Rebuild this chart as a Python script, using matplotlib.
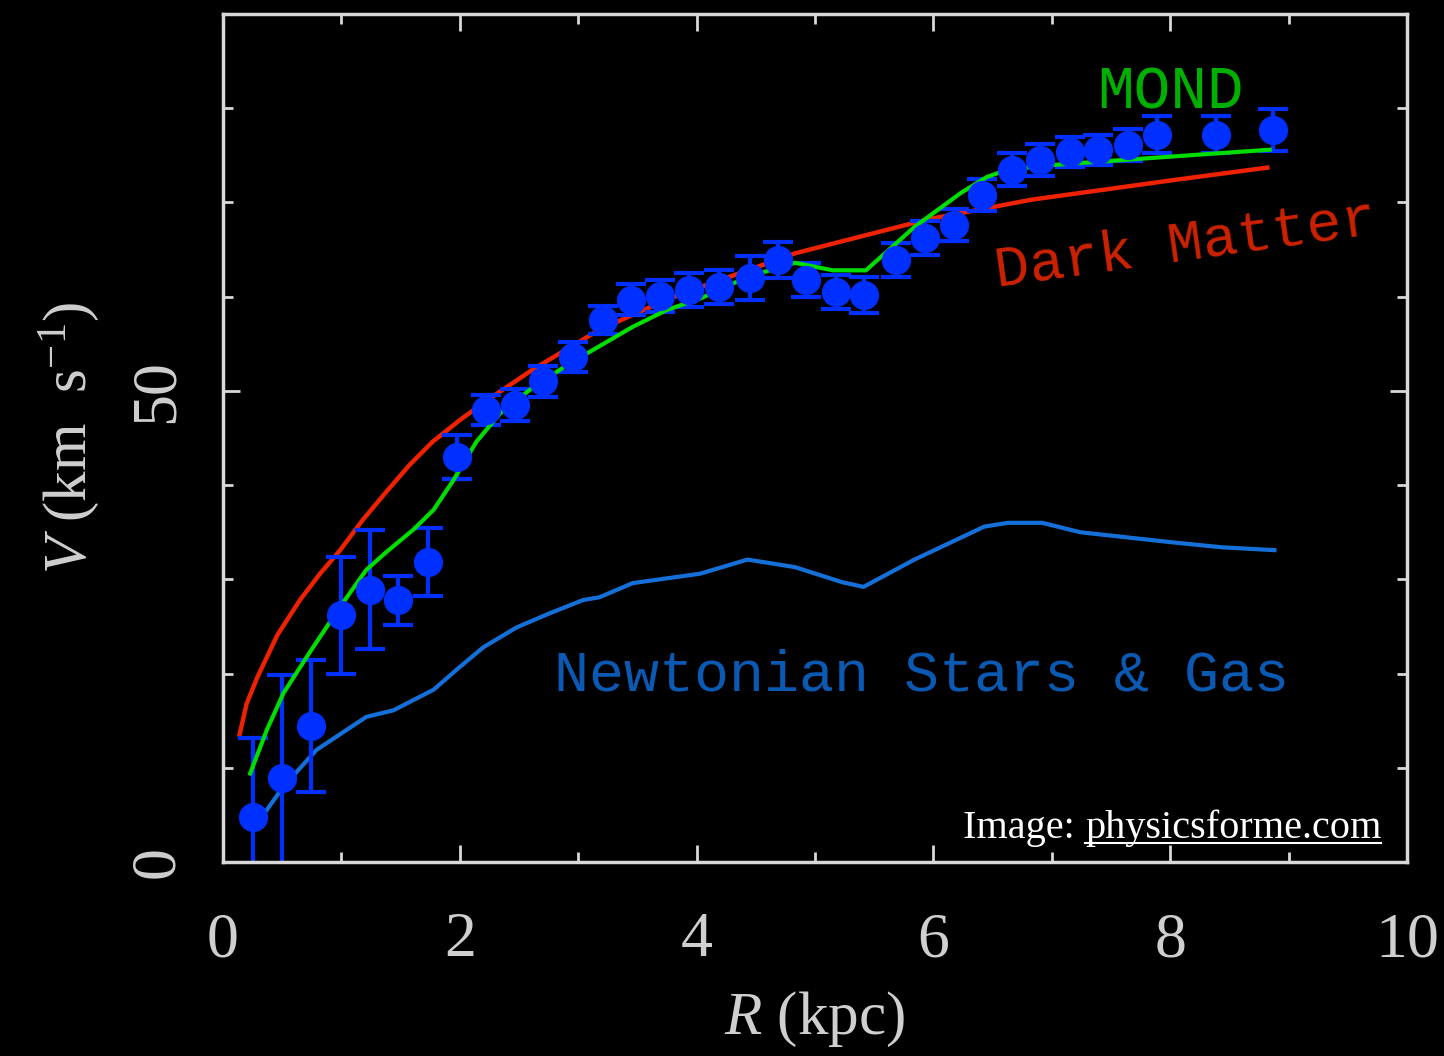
## Rotation curve: observed velocities vs MOND, dark matter and Newtonian (stars & gas) models.

import matplotlib.pyplot as plt
from matplotlib.lines import Line2D

plt.rcParams["mathtext.fontset"] = "custom"
plt.rcParams["mathtext.it"] = "Liberation Serif:italic"
plt.rcParams["mathtext.rm"] = "Liberation Serif"

# observed points (R in kpc, V in km/s, error)
r_obs = [0.25, 0.50, 0.74, 1.00, 1.24, 1.48, 1.73, 1.98, 2.22, 2.47, 2.70, 2.96,
         3.21, 3.45, 3.69, 3.94, 4.19, 4.45, 4.69, 4.92, 5.18, 5.41, 5.68, 5.93,
         6.17, 6.41, 6.66, 6.90, 7.15, 7.39, 7.64, 7.89, 8.39, 8.87]
v_obs = [4.8, 8.9, 14.4, 26.2, 28.9, 27.8, 31.8, 43.0, 48.0, 48.5, 51.0, 53.6,
         57.5, 59.7, 60.1, 60.7, 61.0, 62.0, 63.9, 61.8, 60.5, 60.2, 63.9, 66.2,
         67.6, 70.8, 73.5, 74.5, 75.4, 75.6, 76.1, 77.2, 77.2, 77.7]
v_err = [8.4, 11.0, 7.0, 6.2, 6.3, 2.6, 3.6, 2.3, 1.6, 1.7, 1.6, 1.6,
         1.5, 1.6, 1.7, 1.8, 1.8, 2.3, 1.9, 1.8, 1.8, 1.9, 1.8, 1.8,
         1.7, 1.7, 1.7, 1.7, 1.6, 1.6, 1.7, 2.0, 2.0, 2.2]

# dark matter fit
r_dm = [0.14, 0.20, 0.29, 0.46, 0.65, 0.82, 0.99, 1.18, 1.38, 1.58, 1.77,
        2.00, 2.23, 2.62, 3.18, 3.75, 4.03, 4.83, 5.95, 6.83, 8.04, 8.82]
v_dm = [13.5, 16.8, 19.6, 24.1, 27.8, 30.6, 33.1, 36.3, 39.3, 42.2, 44.6,
        46.9, 49.0, 52.3, 56.5, 59.7, 61.0, 64.6, 68.2, 70.3, 72.4, 73.7]

# MOND fit
r_mond = [0.23, 0.37, 0.51, 0.73, 0.99, 1.21, 1.38, 1.61, 1.78, 1.94, 2.14,
          2.34, 2.60, 2.90, 3.46, 3.75, 4.03, 4.43, 4.83, 5.15, 5.43, 5.84,
          6.23, 6.45, 6.63, 7.03, 8.04, 8.84]
v_mond = [9.4, 14.0, 17.9, 22.2, 27.1, 31.0, 32.9, 35.3, 37.4, 40.4, 44.6,
          47.6, 50.2, 52.7, 56.8, 58.6, 59.8, 62.1, 63.6, 62.8, 62.8, 67.4,
          71.0, 72.7, 73.5, 74.0, 74.9, 75.6]

# Newtonian stars & gas
r_newt = [0.25, 0.51, 0.79, 1.21, 1.44, 1.78, 2.00, 2.20, 2.48, 2.76, 3.04,
          3.18, 3.46, 4.03, 4.43, 4.83, 5.23, 5.41, 5.84, 6.43, 6.63, 6.92,
          7.24, 8.04, 8.44, 8.88]
v_newt = [3.4, 8.0, 11.9, 15.4, 16.1, 18.3, 20.7, 22.8, 24.9, 26.4, 27.8,
          28.1, 29.6, 30.6, 32.1, 31.3, 29.7, 29.2, 32.1, 35.6, 36.0, 36.0,
          35.0, 33.9, 33.4, 33.1]

axis_col = "#d8d8d8"
label_col = "#cfcfcf"

fig = plt.figure(figsize=(14.44, 10.56), dpi=100, facecolor="black")
ax = fig.add_axes([0.1544, 0.1837, 0.82, 0.8030], facecolor="black")

ax.plot(r_newt, v_newt, color="#1470d8", lw=3)
ax.plot(r_dm, v_dm, color="#ee2200", lw=3.2)
ax.errorbar(r_obs, v_obs, yerr=v_err, fmt="o", ms=20, color="#0030ff",
            ecolor="#0030ff", elinewidth=3, capsize=11, capthick=3)
ax.plot(r_mond, v_mond, color="#00dd00", lw=3)

ax.set_xlim(0, 10)
ax.set_ylim(0, 90)
ax.set_xticks([0, 2, 4, 6, 8, 10])
ax.set_xticks(range(1, 10, 2), minor=True)
ax.set_yticks([0, 50])
ax.set_yticks([10, 20, 30, 40, 60, 70, 80], minor=True)

for s in ax.spines.values():
    s.set_color(axis_col)
    s.set_linewidth(2.5)

ax.tick_params(which="both", direction="in", top=True, right=True,
               colors=axis_col, width=2)
ax.tick_params(which="major", length=12)
ax.tick_params(which="minor", length=7)
ax.tick_params(axis="x", pad=36)
ax.tick_params(axis="y", pad=26)

tick_font = dict(family="Liberation Serif", size=46, color=label_col)
ax.set_xticklabels(["0", "2", "4", "6", "8", "10"], **tick_font)
ax.set_yticklabels(["0", "50"], rotation=90, va="center", **tick_font)

ax.set_xlabel(r"$R$ (kpc)", family="Liberation Serif", size=44,
              color=label_col, labelpad=14)
ax.set_ylabel(r"$V$ (km  s$^{-1}$)", family="Liberation Serif", size=44,
              color=label_col, labelpad=20)

ann = dict(family="Liberation Mono", size=42)
ax.text(8.0, 81.6, "MOND", color="#00b000", ha="center", va="center",
        size=44, family="Liberation Mono")
ax.text(8.13, 65.5, "Dark Matter", color="#cc2200", ha="center", va="center",
        rotation=8, **ann)
ax.text(5.9, 19.8, "Newtonian Stars & Gas", color="#0a5ab4", ha="center",
        va="center", **ann)

# credit line, the site name underlined
credit = dict(family="Liberation Serif", size=29, color="white")
t1 = fig.text(963 / 1444, 1 - 838 / 1056, "Image: ", ha="left", va="baseline", **credit)
fig.canvas.draw()
rend = fig.canvas.get_renderer()
bb1 = t1.get_window_extent(rend)
t2 = fig.text(bb1.x1 / 1444, 1 - 838 / 1056, "physicsforme.com", ha="left",
              va="baseline", **credit)
bb2 = t2.get_window_extent(rend)
uy = 1 - 843 / 1056
fig.add_artist(Line2D([bb2.x0 / 1444, bb2.x1 / 1444], [uy, uy],
                      transform=fig.transFigure, color="white", lw=1.5))

fig.savefig("out.png", dpi=100, facecolor="black")
